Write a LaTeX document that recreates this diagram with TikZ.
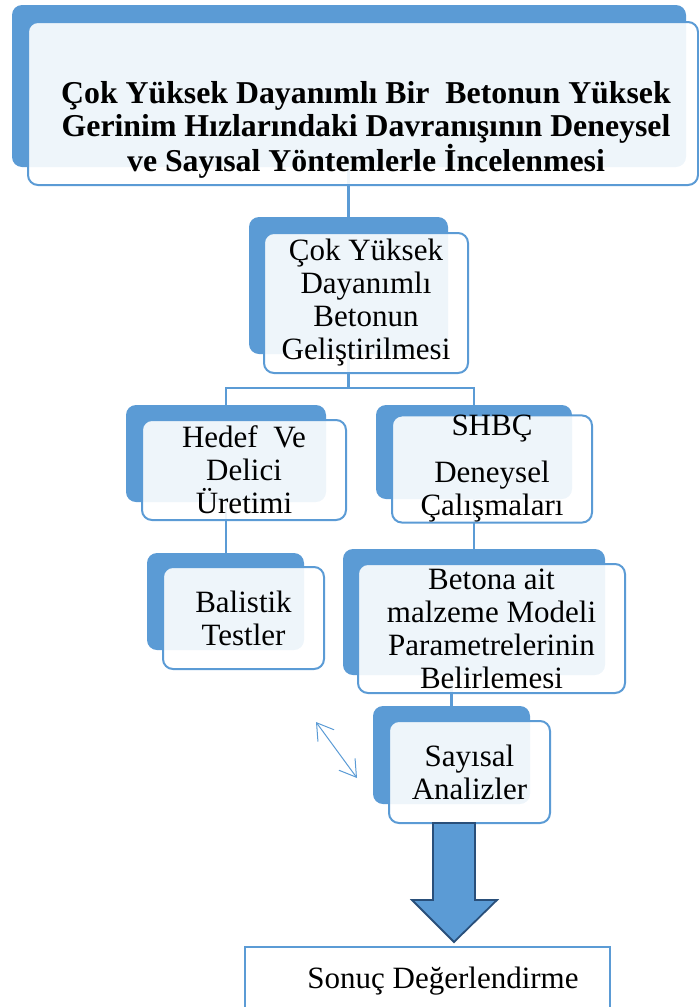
\documentclass[tikz,border=0pt]{standalone}
\usepackage{fontspec}
\setmainfont{Liberation Serif}
\usetikzlibrary{arrows.meta,backgrounds}
\definecolor{smblue}{RGB}{91,155,213}
\definecolor{smdark}{RGB}{41,79,122}

\begin{document}
\begin{tikzpicture}
  [x=1pt, y=-1pt,
   back/.style={rectangle, fill=smblue, rounded corners=10pt, inner sep=0pt},
   front/.style={rectangle, draw=smblue, line width=2pt, fill=white,
     fill opacity=0.9, text opacity=1, rounded corners=10pt, inner sep=0pt,
     align=center, font=\fontsize{31}{33}\selectfont},
   link/.style={draw=smblue, line width=2.2pt},
   bigarrow/.style={fill=smblue, draw=smdark, line width=1.8pt, line join=miter}]
  \clip (0,0) rectangle (699,1007);
  % title box
  \node[back, minimum width=674pt, minimum height=162pt] (b1) at (349,86) {};
  \node[front, minimum width=670pt, minimum height=163pt] (f1) at (363,103.5) {};
  \node[align=center, font=\bfseries\fontsize{31.8}{33}\selectfont] (title) at (366,130)
    {Çok Yüksek Dayanımlı Bir~ Betonun Yüksek\\
     Gerinim Hızlarındaki Davranışının Deneysel\\
     ve Sayısal Yöntemlerle İncelenmesi};
  % second level
  \node[back, minimum width=199pt, minimum height=137pt] (b2) at (348.5,285.5) {};
  \node[front, minimum width=204pt, minimum height=140pt] (f2) at (366,303)
    {Çok Yüksek\\Dayanımlı\\Betonun\\Geliştirilmesi};
  % two branches
  \node[back, minimum width=200pt, minimum height=97pt] (b3a) at (226,453.5) {};
  \node[front, minimum width=204pt, minimum height=100pt] (f3a) at (244,470)
    {Hedef~ Ve\\Delici\\Üretimi};
  \node[back, minimum width=196pt, minimum height=94pt] (b3b) at (474,452) {};
  \node[front, minimum width=200pt, minimum height=98pt] (f3b) at (492,469)
    {SHBÇ\\[14pt]Deneysel\\Çalışmaları};
  \node[back, minimum width=157pt, minimum height=97pt] (b4a) at (225.5,601.5) {};
  \node[front, minimum width=161pt, minimum height=102pt] (f4a) at (243.5,618)
    {Balistik\\Testler};
  \node[back, minimum width=262pt, minimum height=126pt] (b4b) at (474,612) {};
  \node[front, minimum width=267pt, minimum height=129pt] (f4b) at (491.5,628.5)
    {Betona ait\\malzeme Modeli\\Parametrelerinin\\Belirlemesi};
  \node[back, minimum width=157pt, minimum height=98pt] (b5) at (451.5,755) {};
  \node[front, minimum width=161pt, minimum height=102pt] (f5) at (469.5,772)
    {Sayısal\\Analizler};
  % result box
  \node[rectangle, draw=smblue, line width=2pt, fill=white,
    minimum width=365pt, minimum height=80pt] (b6) at (427.5,987) {};
  \node[anchor=base, font=\fontsize{31}{33}\selectfont] (sonuc) at (443,988)
    {Sonuç Değerlendirme};
  % connectors behind the boxes
  \coordinate (split) at (348.5,388);
  \begin{scope}[on background layer]
    \draw[link] (b1.south -| b2.north) -- (b2.north);
    \draw[link] (b2.south) -- (split) -| (b3a.north);
    \draw[link] (split) -| (b3b.north);
    \draw[link] (b3a.south) -- (b3a.south |- b4a.north);
    \draw[link] (b3b.south) -- (b3b.south |- b4b.north);
    \draw[link] (b4b.south -| b5.north) -- (b5.north);
  \end{scope}
  % loose double arrow
  \coordinate (da1) at (316,722);
  \coordinate (da2) at (357,778);
  \draw[smblue, line width=1pt,
    {Straight Barb[length=16pt, width=20pt]}-{Straight Barb[length=16pt, width=20pt]}]
    (da1) -- (da2);
  % block arrow to the result
  \draw[bigarrow] (433,823) -- (433,900) -- (412,900) -- (454,942)
    -- (497,900) -- (475,900) -- (475,823) -- cycle;
\end{tikzpicture}
\end{document}
